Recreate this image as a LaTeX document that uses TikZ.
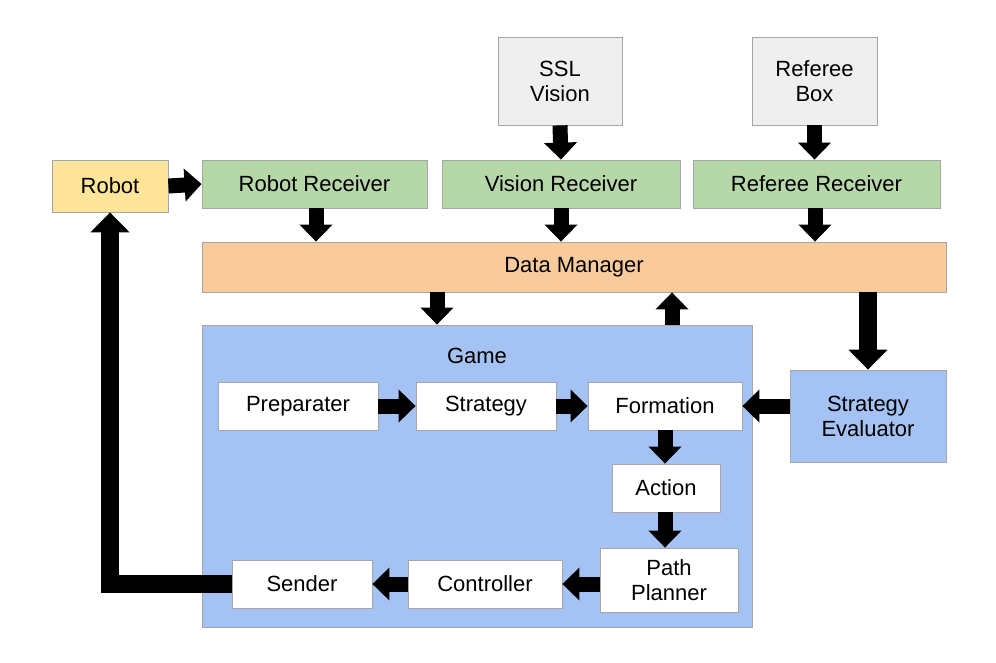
\documentclass[tikz,border=0pt]{standalone}
\usepackage{fontspec}
\setmainfont{Liberation Sans}
\usetikzlibrary{arrows.meta,positioning}
\definecolor{cyel}{HTML}{FFE599}
\definecolor{cgrn}{HTML}{B6D7A8}
\definecolor{cgry}{HTML}{EFEFEF}
\definecolor{corg}{HTML}{F9CB9C}
\definecolor{cblu}{HTML}{A4C2F4}
\begin{document}
\begin{tikzpicture}[x=1pt,y=-1pt,
  box/.style={draw=gray!70,line width=0.8pt,inner sep=0pt,align=center,font=\fontsize{22}{25}\selectfont},
  arr/.style={line width=15pt,-{Triangle[length=17pt,width=32pt]}},
  bigarr/.style={line width=18pt,-{Triangle[length=20pt,width=38pt]}}]
\useasboundingbox (0,0) rectangle (996,662);
\def\bx#1#2#3#4#5#6#7{\node[box,fill=#2,minimum width=#5-#3,minimum height=#6-#4] (#1) at ({(#3+#5)/2},{(#4+#6)/2}) {#7};}
\bx{game}{cblu}{202}{325}{752}{627}{}
\node[font=\fontsize{22}{25}\selectfont] (gl) at (477,356) {Game};
\bx{robot}{cyel}{52}{160}{168}{212}{Robot}
\bx{rr}{cgrn}{202}{160}{427}{208}{Robot Receiver}
\bx{ssl}{cgry}{498}{37}{622}{125}{SSL\\Vision}
\bx{rb}{cgry}{752}{37}{877}{125}{Referee\\Box}
\bx{vr}{cgrn}{442}{160}{680}{208}{Vision Receiver}
\bx{ref}{cgrn}{693}{160}{940}{208}{Referee Receiver}
\bx{dm}{corg}{202}{242}{946}{292}{Data Manager}
\bx{se}{cblu}{790}{370}{946}{462}{Strategy\\Evaluator}
\bx{prep}{white}{218}{382}{378}{430}{Preparater}
\bx{str}{white}{416}{382}{556}{430}{Strategy}
\bx{form}{white}{588}{382}{742}{430}{Formation}
\bx{act}{white}{612}{464}{720}{512}{Action}
\bx{pp}{white}{600}{548}{738}{612}{Path\\Planner}
\bx{ctl}{white}{408}{560}{562}{608}{Controller}
\bx{snd}{white}{232}{560}{372}{608}{Sender}
\draw[arr] (robot.east) -- (rr.west);
\draw[arr] (ssl.south) -- (vr.north);
\draw[arr] (rb.south) -- (rb.south |- ref.north);
\draw[arr] (316,0 |- rr.south) -- (316,0 |- dm.north);
\draw[arr] (vr.south) -- (vr.south |- dm.north);
\draw[arr] (815,0 |- ref.south) -- (815,0 |- dm.north);
\draw[arr] (437,0 |- dm.south) -- (437,0 |- game.north);
\draw[arr] (672,0 |- game.north) -- (672,0 |- dm.south);
\draw[bigarr] (se.north |- dm.south) -- (se.north);
\draw[arr] (se.west |- form.east) -- (form.east);
\draw[arr] (prep.east) -- (str.west);
\draw[arr] (str.east) -- (form.west);
\draw[arr] (665,0 |- form.south) -- (665,0 |- act.north);
\draw[arr] (act.south -| 665,0) -- (665,0 |- pp.north);
\draw[arr] (pp.west |- ctl.east) -- (ctl.east);
\draw[arr] (ctl.west) -- (snd.east);
\draw[bigarr] (snd.west) -- (110,0 |- snd.west) -- (110,0 |- robot.south);
\end{tikzpicture}
\end{document}
